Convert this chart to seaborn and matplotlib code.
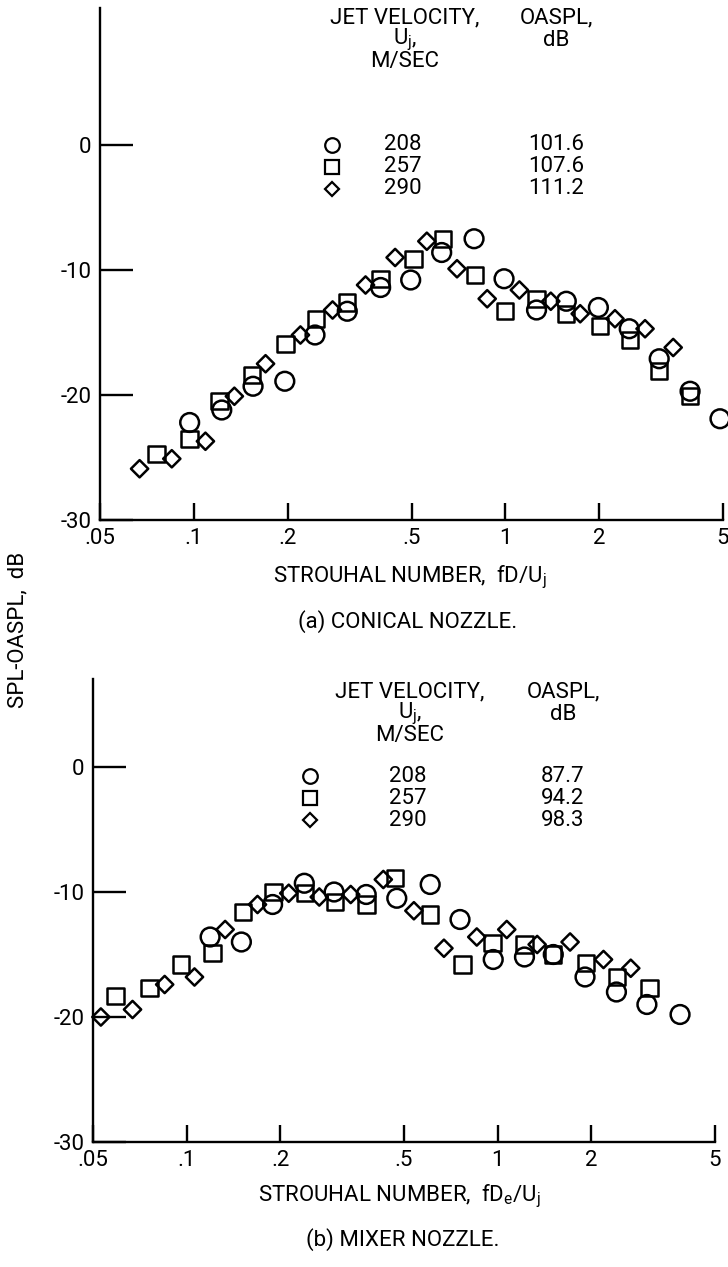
import numpy as np
import pandas as pd
import matplotlib
matplotlib.use("Agg")
import matplotlib.pyplot as plt
from matplotlib.ticker import FixedLocator, FixedFormatter, NullLocator
import seaborn as sns

# ---- (a) conical nozzle: Strouhal number vs SPL-OASPL, dB ----
con_208_st = [0.097, 0.123, 0.155, 0.196, 0.245, 0.311, 0.398, 0.497, 0.625, 0.794,
              0.991, 1.26, 1.57, 1.99, 2.50, 3.12, 3.92, 4.89]
con_208_db = [-22.2, -21.2, -19.3, -18.9, -15.2, -13.3, -11.4, -10.8, -8.6, -7.5,
              -10.7, -13.2, -12.5, -13.0, -14.7, -17.1, -19.7, -21.9]
con_257_st = [0.076, 0.097, 0.121, 0.154, 0.197, 0.247, 0.311, 0.398, 0.507, 0.632,
              0.80, 0.998, 1.26, 1.57, 2.01, 2.51, 3.12, 3.92]
con_257_db = [-24.7, -23.5, -20.5, -18.4, -15.9, -13.9, -12.6, -10.7, -9.1, -7.5,
              -10.4, -13.3, -12.3, -13.5, -14.5, -15.6, -18.1, -20.1]
con_290_st = [0.067, 0.085, 0.109, 0.135, 0.170, 0.220, 0.279, 0.356, 0.443, 0.56,
              0.70, 0.875, 1.11, 1.40, 1.74, 2.25, 2.81, 3.46]
con_290_db = [-25.9, -25.1, -23.7, -20.1, -17.5, -15.2, -13.2, -11.2, -9.0, -7.7,
              -9.9, -12.3, -11.6, -12.5, -13.5, -13.9, -14.7, -16.2]

# ---- (b) mixer nozzle ----
mix_208_st = [0.119, 0.150, 0.189, 0.239, 0.298, 0.378, 0.474, 0.607, 0.757, 0.968,
              1.22, 1.51, 1.91, 2.41, 3.02, 3.86]
mix_208_db = [-13.6, -14.0, -11.0, -9.3, -10.0, -10.2, -10.5, -9.4, -12.2, -15.4,
              -15.2, -15.0, -16.8, -18.0, -19.0, -19.8]
mix_257_st = [0.059, 0.076, 0.096, 0.121, 0.152, 0.190, 0.240, 0.300, 0.379, 0.468,
              0.607, 0.772, 0.964, 1.22, 1.51, 1.92, 2.42, 3.08]
mix_257_db = [-18.3, -17.7, -15.8, -14.9, -11.6, -10.0, -10.1, -10.8, -11.0, -8.9,
              -11.8, -15.8, -14.1, -14.2, -15.0, -15.7, -16.8, -17.7]
mix_290_st = [0.053, 0.067, 0.085, 0.106, 0.133, 0.169, 0.213, 0.267, 0.337, 0.429,
              0.538, 0.672, 0.857, 1.07, 1.34, 1.71, 2.19, 2.68]
mix_290_db = [-20.0, -19.4, -17.4, -16.8, -13.0, -11.0, -10.1, -10.4, -10.2, -9.0,
              -11.5, -14.5, -13.6, -13.0, -14.2, -14.0, -15.4, -16.1]

velocities = ["208", "257", "290"]
con_oaspl = ["101.6", "107.6", "111.2"]
mix_oaspl = ["87.7", "94.2", "98.3"]

x_ticks = [0.05, 0.1, 0.2, 0.5, 1, 2, 5]
x_tick_labels = [".05", ".1", ".2", ".5", "1", "2", "5"]
y_ticks = [0, -10, -20, -30]
y_tick_labels = ["0", "-10", "-20", "-30"]

# marker style per jet velocity: (marker, size in pt^2, key size in pt)
marker_style = {"208": ("o", 13.5 ** 2, 10.5),
                "257": ("s", 11.8 ** 2, 9.5),
                "290": ("D", 8.8 ** 2, 7.2)}

sns.set_style("ticks")
FONT = ["Liberation Sans Narrow", "Roboto", "DejaVu Sans"]
plt.rcParams["font.family"] = FONT
plt.rcParams["mathtext.fontset"] = "custom"
plt.rcParams["mathtext.rm"] = "Roboto"
plt.rcParams["mathtext.it"] = "Roboto"
for key in ("text.color", "axes.labelcolor", "xtick.color", "ytick.color",
            "axes.edgecolor"):
    plt.rcParams[key] = "black"

W, H = 728, 1267
FS = 16
fig = plt.figure(figsize=(W / 100, H / 100), dpi=100)


def frac(px, py):
    return px / W, 1 - py / H


def draw_panel(ax, series, ylim_top, header_x, header_y, row_y0, legend_x, oaspl, col2_x):
    for vel, (st, db) in zip(velocities, series):
        df = pd.DataFrame({"st": st, "db": db})
        m, s, _ = marker_style[vel]
        sns.scatterplot(data=df, x="st", y="db", ax=ax, marker=m, s=s,
                        facecolor="none", edgecolor="black", linewidth=1.8,
                        zorder=3, clip_on=False)
    ax.set_xscale("log")
    ax.set_xlim(0.05, 5)
    ax.set_ylim(-30, ylim_top)
    ax.xaxis.set_major_locator(FixedLocator(x_ticks))
    ax.xaxis.set_major_formatter(FixedFormatter(x_tick_labels))
    ax.xaxis.set_minor_locator(NullLocator())
    ax.yaxis.set_major_locator(FixedLocator(y_ticks))
    ax.yaxis.set_major_formatter(FixedFormatter(y_tick_labels))
    ax.yaxis.set_minor_locator(NullLocator())
    sns.despine(ax=ax)
    for sp in ("left", "bottom"):
        ax.spines[sp].set_linewidth(1.7)
    ax.tick_params(axis="x", direction="in", length=12, width=1.7,
                   labelsize=FS, pad=6)
    ax.tick_params(axis="y", direction="in", length=24, width=1.7,
                   labelsize=FS, pad=6)
    ax.set_xlabel("")
    ax.set_ylabel("")

    # key table: header lines and one row per jet velocity
    hx, hy = header_x, header_y
    for i, line in enumerate(["JET VELOCITY,", r"U$_{\mathregular{j}}$,", "M/SEC"]):
        fig.text(*frac(hx, hy + 22 * i), line, ha="center", va="center", fontsize=FS)
    for i, line in enumerate(["OASPL,", "dB"]):
        fig.text(*frac(col2_x, hy + 22 * i), line, ha="center", va="center", fontsize=FS)
    for i, vel in enumerate(velocities):
        ry = row_y0 + 22 * i
        m, _, ms = marker_style[vel]
        fx, fy = frac(legend_x, ry)
        ax.plot([fx], [fy], marker=m, markersize=ms, markerfacecolor="none",
                markeredgecolor="black", markeredgewidth=1.6,
                transform=fig.transFigure, clip_on=False)
        fig.text(*frac(hx - 2, ry), vel, ha="center", va="center", fontsize=FS)
        fig.text(*frac(col2_x, ry), oaspl[i], ha="center", va="center", fontsize=FS)


ax1 = fig.add_axes([100 / W, 1 - 520 / H, 623 / W, 512.5 / H])
draw_panel(ax1, [(con_208_st, con_208_db), (con_257_st, con_257_db),
                 (con_290_st, con_290_db)],
           11, 405, 18, 145, 332, con_oaspl, 556)
fig.text(*frac(410, 577), r"STROUHAL NUMBER,  fD/U$_{\mathregular{j}}$",
         ha="center", va="center", fontsize=FS)
fig.text(*frac(408, 622), "(a) CONICAL NOZZLE.", ha="center", va="center", fontsize=FS)

ax2 = fig.add_axes([93 / W, 1 - 1142 / H, 622 / W, 462.5 / H])
draw_panel(ax2, [(mix_208_st, mix_208_db), (mix_257_st, mix_257_db),
                 (mix_290_st, mix_290_db)],
           7, 410, 692, 776, 310, mix_oaspl, 563)
fig.text(*frac(400, 1196), r"STROUHAL NUMBER,  fD$_{\mathregular{e}}$/U$_{\mathregular{j}}$",
         ha="center", va="center", fontsize=FS)
fig.text(*frac(403, 1240), "(b) MIXER NOZZLE.", ha="center", va="center", fontsize=FS)

fig.text(*frac(18, 630), "SPL-OASPL,  dB", rotation=90, ha="center", va="center",
         fontsize=FS)

fig.savefig("out.png", dpi=100)
